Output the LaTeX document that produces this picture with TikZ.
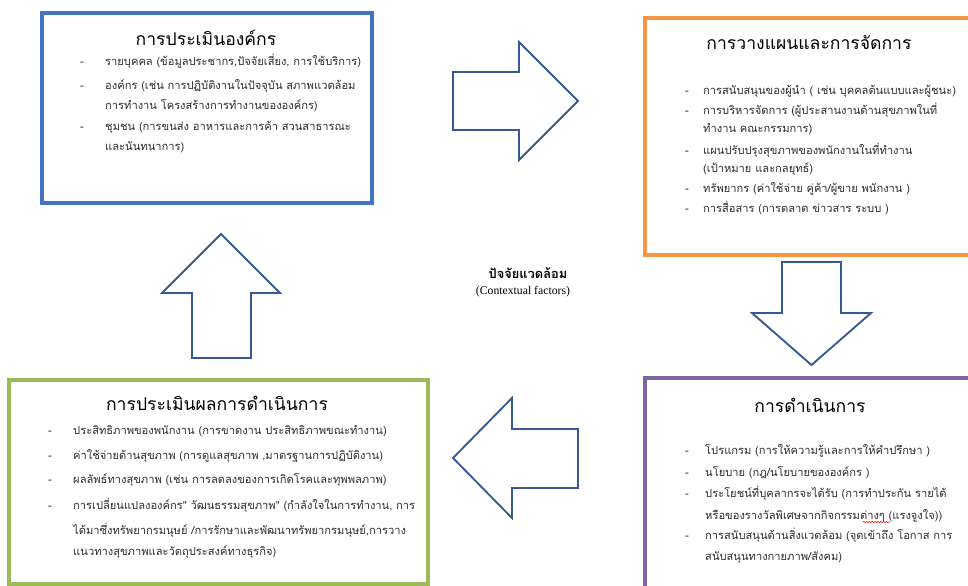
\documentclass[tikz,border=0pt]{standalone}
\usepackage{fontspec}
\setmainfont{Liberation Serif}
\newfontfamily\thai[Script=Thai]{Loma}
\usetikzlibrary{decorations.pathmorphing}
\definecolor{boxblue}{RGB}{68,114,196}
\definecolor{boxorange}{RGB}{247,150,70}
\definecolor{boxgreen}{RGB}{155,187,89}
\definecolor{boxpurple}{RGB}{128,100,162}
\definecolor{arrowblue}{RGB}{55,90,150}
\definecolor{txtgray}{RGB}{45,45,45}
\tikzset{frame/.style={draw=#1,line width=2.6pt,fill=white},
 ttl/.style={font=\thai\fontsize{15}{18}\selectfont,text=black,inner sep=0pt},
 itm/.style={anchor=mid west,font=\thai\fontsize{9.5}{11}\selectfont,text=txtgray,inner sep=0pt},
 dsh/.style={itm,anchor=mid},
 blk/.style={draw=arrowblue,line width=1.6pt,line join=miter,fill=white},
 ctx/.style={font=\fontsize{10}{12}\selectfont,inner sep=0pt}}

\begin{document}
\begin{tikzpicture}[x=0.03cm,y=-0.03cm]
\useasboundingbox (0,0) rectangle (968,586);
\clip (0,0) rectangle (968,586);
% frames
\draw[frame=boxblue](42,13) rectangle (372,203);
\draw[frame=boxorange](645,18) rectangle (980,255);
\draw[frame=boxgreen](9,380) rectangle (428,584);
\draw[frame=boxpurple](645,378) rectangle (980,600);
% block arrows
\draw[blk](453,72)--(519,72)--(519,42)--(578,101)--(519,160)--(519,130)--(453,130)--cycle;
\draw[blk](782,262)--(841,262)--(841,313)--(871,313)--(811.5,365)--(752,313)--(782,313)--cycle;
\draw[blk](578,429)--(512,429)--(512,398)--(453,458)--(512,518)--(512,488)--(578,488)--cycle;
\draw[blk](192,358)--(192,293)--(162,293)--(221,234)--(280,293)--(251,293)--(251,358)--cycle;
% assessment of the organisation
\node[ttl](t1) at (206,38){การประเมินองค์กร};
\foreach \y/\t in {63/{รายบุคคล (ข้อมูลประชากร,ปัจจัยเสี่ยง, การใช้บริการ)},
 87/{องค์กร (เช่น การปฏิบัติงานในปัจจุบัน สภาพแวดล้อม},
 107/{การทำงาน โครงสร้างการทำงานขององค์กร)},
 128/{ชุมชน (การขนส่ง อาหารและการค้า สวนสาธารณะ},
 148/{และนันทนาการ)}}
 \node[itm](a\y) at (105,\y){\t};
\foreach \y in {63,87,128}\node[dsh](ad\y) at (82,\y){-};
% planning and management
\node[ttl](t2) at (809,43){การวางแผนและการจัดการ};
\foreach \y/\t in {92/{การสนับสนุนของผู้นำ ( เช่น บุคคลต้นแบบและผู้ชนะ)},
 112/{การบริหารจัดการ (ผู้ประสานงานด้านสุขภาพในที่},
 130/{ทำงาน คณะกรรมการ)},
 152/{แผนปรับปรุงสุขภาพของพนักงานในที่ทำงาน},
 170/{(เป้าหมาย และกลยุทธ์)},
 190/{ทรัพยากร (ค่าใช้จ่าย คู่ค้า/ผู้ขาย พนักงาน )},
 210/{การสื่อสาร (การตลาด ข่าวสาร ระบบ )}}
 \node[itm](b\y) at (703,\y){\t};
\foreach \y in {92,112,152,190,210}\node[dsh](bd\y) at (687,\y){-};
% implementation
\node[ttl](t3) at (810,405){การดำเนินการ};
\foreach \y/\t in {452/{โปรแกรม (การให้ความรู้และการให้คำปรึกษา )},
 474/{นโยบาย (กฎ/นโยบายขององค์กร )},
 495/{ประโยชน์ที่บุคลากรจะได้รับ (การทำประกัน รายได้},
 517/{หรือของรางวัลพิเศษจากกิจกรรมต่างๆ (แรงจูงใจ))},
 537/{การสนับสนุนด้านสิ่งแวดล้อม (จุดเข้าถึง โอกาส การ},
 558/{สนับสนุนทางกายภาพ/สังคม)}}
 \node[itm](c\y) at (705,\y){\t};
\foreach \y in {452,474,495,537}\node[dsh](cd\y) at (687,\y){-};
\draw[red,line width=.5pt,decorate,decoration={snake,amplitude=.5pt,segment length=2.4pt}](863,522)--(890,522);
% evaluation of results
\node[ttl](t4) at (217,403){การประเมินผลการดำเนินการ};
\foreach \y/\t in {432/{ประสิทธิภาพของพนักงาน (การขาดงาน ประสิทธิภาพขณะทำงาน)},
 457/{ค่าใช้จ่ายด้านสุขภาพ (การดูแลสุขภาพ ,มาตรฐานการปฏิบัติงาน)},
 481/{ผลลัพธ์ทางสุขภาพ (เช่น การลดลงของการเกิดโรคและทุพพลภาพ)},
 507/{การเปลี่ยนแปลงองค์กร" วัฒนธรรมสุขภาพ" (กำลังใจในการทำงาน, การ},
 532/{ได้มาซึ่งทรัพยากรมนุษย์ /การรักษาและพัฒนาทรัพยากรมนุษย์,การวาง},
 553/{แนวทางสุขภาพและวัตถุประสงค์ทางธุรกิจ)}}
 \node[itm](d\y) at (73,\y){\t};
\foreach \y in {432,457,481,507}\node[dsh](dd\y) at (50,\y){-};
% contextual factors
\node[ctx,font=\thai\bfseries\fontsize{11}{13}\selectfont](cx) at (528,273){ปัจจัยแวดล้อม};
\node[ctx](cxe) at (523,292){(Contextual factors)};
\end{tikzpicture}
\end{document}
